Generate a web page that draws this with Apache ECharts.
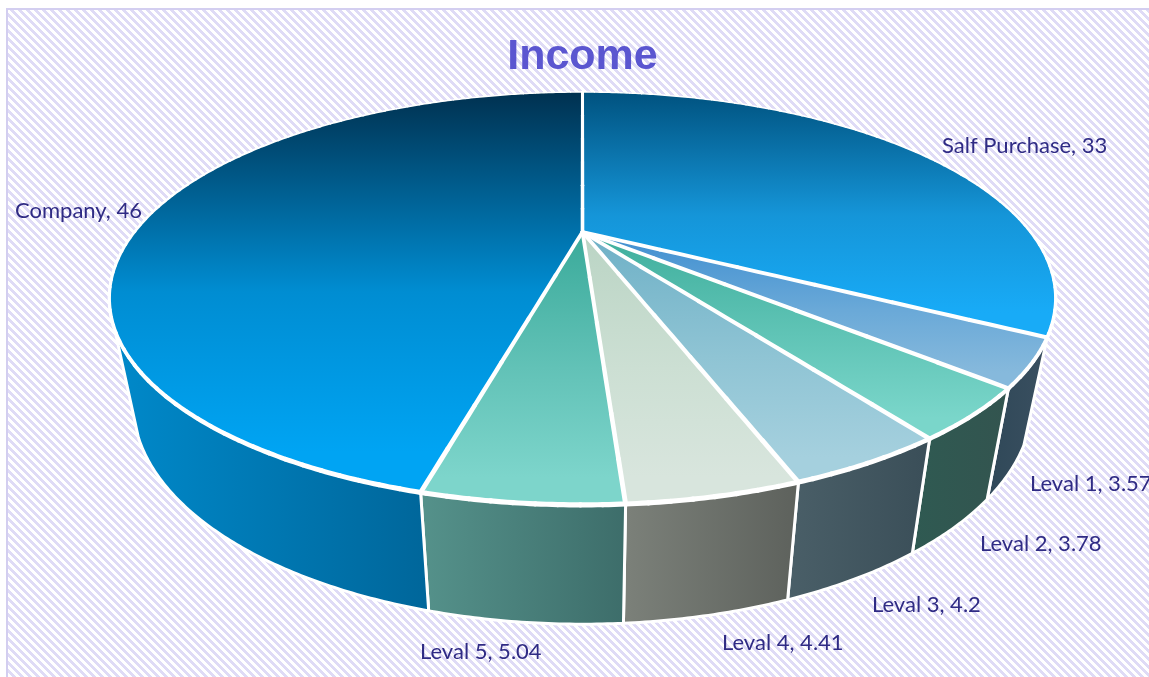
<!DOCTYPE html>
<html>
<head>
<meta charset="utf-8">
<style>html,body{margin:0;padding:0;background:#fff;overflow:hidden}#c{width:1149px;height:677px}</style>
<script src="https://cdn.jsdelivr.net/npm/echarts@6/dist/echarts.min.js"></script>
</head>
<body>
<div id="c"></div>
<script>
// Data
const categories = ['Salf Purchase', 'Leval 1', 'Leval 2', 'Leval 3', 'Leval 4', 'Leval 5', 'Company'];
const values = [33, 3.57, 3.78, 4.2, 4.41, 5.04, 46];

// Styles
const topColors = [
  ['#00527f', '#1595d8', '#18abf7'],
  ['#3f8ed0', '#6aa9d8', '#86b9dc'],
  ['#3eae9c', '#60c4b6', '#7ad6ca'],
  ['#6eb0c6', '#8fc4d4', '#a5d0de'],
  ['#bad4c4', '#ccdfd3', '#d8e5dd'],
  ['#3aaa9a', '#62c2b7', '#7dd5cb'],
  ['#003150', '#008dd2', '#00a4f3']
];
const wallColors = [
  null,
  ['#2f4858', '#3a4f60'],
  ['#2f5a52', '#33544f'],
  ['#4a5f68', '#3a4e58'],
  ['#7c817a', '#5d615c'],
  ['#55928b', '#3d6d6a'],
  ['#0089ca', '#00669a']
];
const labelAnchors = [[942,146],[1030,484],[980,544],[872,605],[722,643],[420,652],[15,211]];

// Projection of the pie disc: perspective tilt
const cx = 582.5, cy = 232, R = 448, S = 185, K = 0.322;
const wallScaleX = 0.95, wallScaleY = 1.07, wallShift = 84;
const wallEndAngle = 243;

function rim(deg) {
  const t = deg * Math.PI / 180, u = Math.sin(t), v = Math.cos(t), d = 1 + K * v;
  return [cx + R * u / d, cy - S * v / d];
}
function lower(p) { return [cx + wallScaleX * (p[0] - cx), wallScaleY * p[1] + wallShift]; }
function arc(a, b) {
  const n = Math.max(2, Math.ceil(Math.abs(b - a) * 2)), pts = [];
  for (let i = 0; i <= n; i++) pts.push(rim(a + (b - a) * i / n));
  return pts;
}
const total = values.reduce((s, v) => s + v, 0);

function hGrad(c) {
  return new echarts.graphic.LinearGradient(0, 0, 1, 0, [{offset: 0, color: c[0]}, {offset: 1, color: c[1]}]);
}
function vGrad(c) {
  return new echarts.graphic.LinearGradient(0, 0, 0, 1,
    [{offset: 0, color: c[0]}, {offset: 0.5, color: c[1]}, {offset: 0.9, color: c[2]}, {offset: 1, color: c[2]}]);
}
// White separators whose width grows toward the viewer
function rimWidth(y) { return 1.4 + 3.8 * Math.max(0, (y - 92)) / 413; }
function radialWidth(y) { return 3 + 2 * Math.max(0, (y - 92)) / 413; }
function whiteLine(points, widthFn, out) {
  const step = 4;
  for (let i = 0; i < points.length - 1; i += step) {
    const seg = points.slice(i, i + step + 1);
    const my = (seg[0][1] + seg[seg.length - 1][1]) / 2;
    out.push({
      type: 'polyline', z2: 3, silent: true,
      shape: {points: seg},
      style: {fill: null, stroke: '#fff', lineWidth: widthFn(my), lineCap: 'round', lineJoin: 'round'}
    });
  }
}
function radial(p) {
  const pts = [], n = 24;
  for (let i = 0; i <= n; i++) pts.push([cx + (p[0] - cx) * i / n, cy + (p[1] - cy) * i / n]);
  return pts;
}
function renderItem(params, api) {
  const i = params.dataIndex;
  let before = 0;
  for (let k = 0; k < i; k++) before += values[k];
  const a0 = before / total * 360, a1 = (before + api.value(0)) / total * 360;
  const children = [];
  if (wallColors[i]) {
    const upper = arc(a0, Math.min(a1, wallEndAngle));
    const bottom = upper.map(lower).reverse();
    children.push({
      type: 'polygon', z2: 1,
      shape: {points: upper.concat(bottom)},
      style: {fill: hGrad(wallColors[i]), stroke: '#fff', lineWidth: 3, lineJoin: 'round'}
    });
  }
  const edge = arc(a0, a1);
  children.push({
    type: 'polygon', z2: 2,
    shape: {points: [[cx, cy]].concat(edge)},
    style: {fill: vGrad(topColors[i])}
  });
  whiteLine(edge, rimWidth, children);
  whiteLine(radial(edge[0]), radialWidth, children);
  children.push({
    type: 'text', z2: 4,
    x: labelAnchors[i][0], y: labelAnchors[i][1],
    style: {
      text: categories[i] + ', ' + api.value(0),
      fill: '#2f2b84', font: '22px Lato', align: 'left', verticalAlign: 'middle'
    }
  });
  return {type: 'group', children};
}

const pat = document.createElement('canvas');
pat.width = 8; pat.height = 8;
const g = pat.getContext('2d');
g.fillStyle = '#fff'; g.fillRect(0, 0, 8, 8);
g.fillStyle = '#dfdbf6';
for (let y = 0; y < 8; y++) for (let x = 0; x < 8; x++) if (((x - y) % 8 + 8) % 8 < 4) g.fillRect(x, y, 1, 1);

const chart = echarts.init(document.getElementById('c'), null, {renderer: 'canvas'});
chart.setOption({
  animation: false,
  backgroundColor: '#fff',
  title: {
    text: 'Income', left: 577.5, top: 31, textAlign: 'center',
    textStyle: {fontFamily: 'Liberation Sans', fontWeight: 'bold', fontSize: 43, color: '#5b56d0'}
  },
  graphic: [{
    type: 'rect', z: -10, silent: true,
    shape: {x: 7, y: 9, width: 1160, height: 690},
    style: {fill: {image: pat, repeat: 'repeat'}, stroke: '#d3cef0', lineWidth: 2}
  }],
  series: [{
    type: 'custom',
    coordinateSystem: 'none',
    renderItem,
    silent: true,
    data: values.map(v => [v])
  }]
});
</script>
</body>
</html>
